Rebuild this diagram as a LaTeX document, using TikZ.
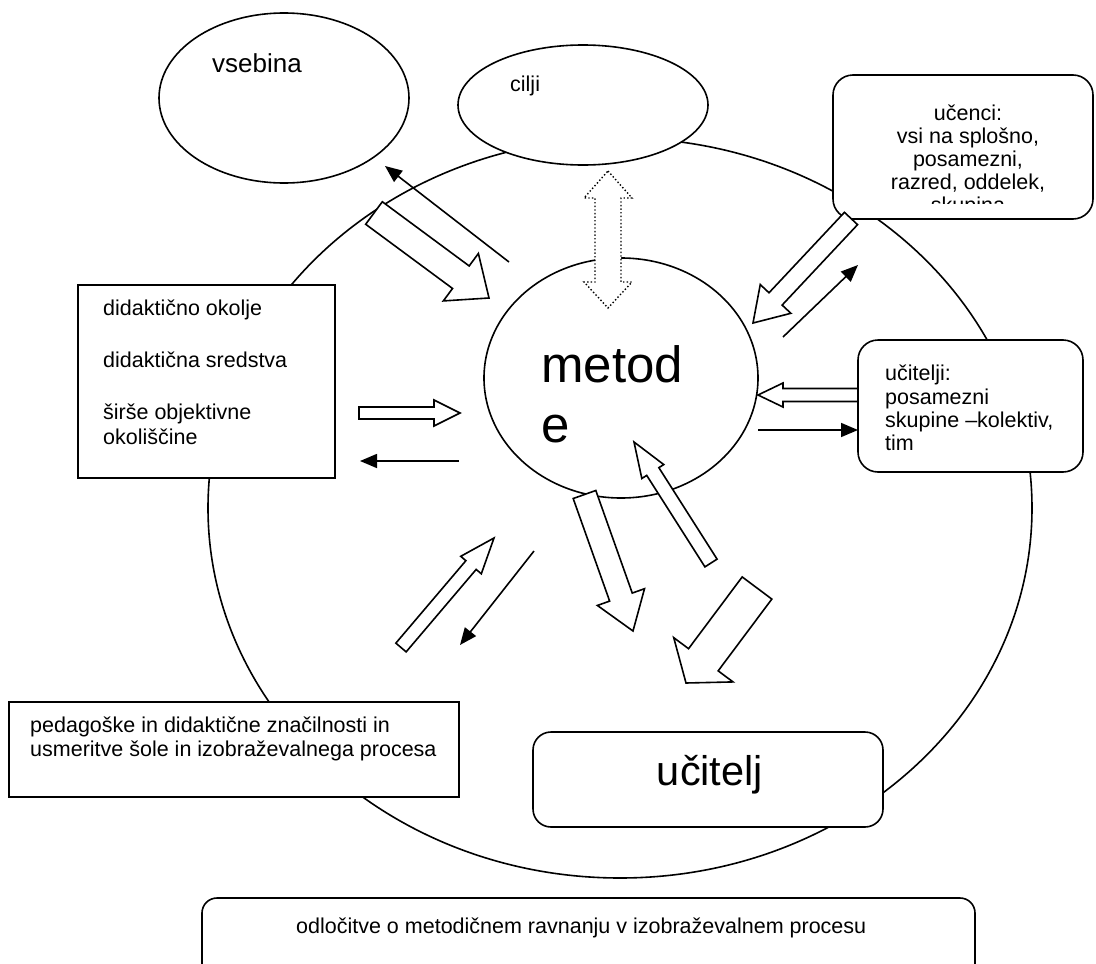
\documentclass[tikz,border=0pt]{standalone}
\usepackage{fontspec}
\setmainfont{Liberation Sans}
\usetikzlibrary{shapes.geometric,arrows.meta,calc}

% hollow block arrow: [options]{tail}{tip}{shaft half width}{head half width}{head length}
\newcommand\hollowarrow[6][]{%
  \coordinate (ha-base) at ($(#3)!#6!(#2)$);
  \path[hollow,#1] ($(#2)!#4!90:(#3)$) -- ($(ha-base)!#4!-90:(#2)$)
    -- ($(ha-base)!#5!-90:(#2)$) -- (#3) -- ($(ha-base)!#5!90:(#2)$)
    -- ($(ha-base)!#4!90:(#2)$) -- ($(#2)!#4!-90:(#3)$) -- cycle;
}

\tikzset{
  box/.style={draw, line width=1.6pt, fill=white, inner sep=0pt},
  rbox/.style={box, rounded corners=20pt},
  oval/.style={draw, ellipse, line width=1.6pt, fill=white, inner sep=0pt},
  hollow/.style={draw, fill=white, line width=1.6pt, line join=miter},
  thinarrow/.style={line width=1.6pt, -{Triangle[length=17pt,width=14pt]}},
  txt/.style={inner sep=0pt, font=\fontsize{21.5}{23}\selectfont},
}

\begin{document}
\begin{tikzpicture}[x=1pt,y=-1pt]
\useasboundingbox (0,0) rectangle (1096,964);
\clip (0,0) rectangle (1096,964);
\fill[white] (0,0) rectangle (1096,964);

% outer field
\node[draw, ellipse, line width=1.6pt, inner sep=0pt, minimum width=824, minimum height=740] (field) at (620,508) {};

% central oval and surrounding shapes
\node[oval, minimum width=274, minimum height=240] (metode) at (621,378) {};
\node[oval, minimum width=250, minimum height=170] (vsebina) at (284,98) {};
\node[oval, minimum width=250, minimum height=120] (cilji) at (583,105) {};
\node[rbox, minimum width=260, minimum height=144] (ucenci) at (963,147) {};
\node[rbox, minimum width=225, minimum height=132] (ucitelji) at (970.5,406) {};
\node[box, minimum width=257, minimum height=193] (okolje) at (206.5,381.5) {};
\node[box, minimum width=450, minimum height=95] (pedagog) at (234,749.5) {};
\node[rbox, rounded corners=18pt, minimum width=350, minimum height=95] (ucitelj) at (708,779.5) {};
\node[rbox, rounded corners=15pt, minimum width=773, minimum height=112] (odlocitve) at (588.5,954) {};

% texts
\node[txt, anchor=north west, font=\fontsize{51}{60}\selectfont, align=left] (metode-t) at (541,345) {metod\\e};
\node[txt, anchor=base west, font=\fontsize{26}{30}\selectfont] (vsebina-t) at (212,72) {vsebina};
\node[txt, anchor=base west] (cilji-t) at (510,91) {cilji};
\begin{scope}
  \clip (ucenci.north west) rectangle ($(ucenci.south east)+(0,-16)$);
  \node[txt, anchor=north, align=center] (ucenci-t) at (968,104.5)
    {učenci:\\vsi na splošno,\\posamezni,\\razred, oddelek,\\skupina};
\end{scope}
\node[txt, anchor=north west, align=left, font=\fontsize{21.5}{23.3}\selectfont] (ucitelji-t) at (885,365)
  {učitelji:\\posamezni\\skupine –kolektiv,\\tim};
\node[txt, anchor=north west, align=left, font=\fontsize{21.5}{25.8}\selectfont] (okolje-t) at (103,300)
  {didaktično okolje\\ \\didaktična sredstva\\ \\širše objektivne\\okoliščine};
\node[txt, anchor=north west, align=left, font=\fontsize{21.5}{24}\selectfont] (pedagog-t) at (30,717)
  {pedagoške in didaktične značilnosti in\\usmeritve šole in izobraževalnega procesa};
\node[txt, anchor=base, font=\fontsize{41.5}{48}\selectfont] (ucitelj-t) at (710,785) {učitelj};
\node[txt, anchor=base west] (odlocitve-t) at (296,933) {odločitve o metodičnem ravnanju v izobraževalnem procesu};

% arrow end points
\coordinate (a1s) at (509,262);   \coordinate (a1e) at (385,166);
\coordinate (b1s) at (374,213);   \coordinate (b1e) at (489,298);
\coordinate (dtop) at (608,171);  \coordinate (dbot) at (608,308);
\coordinate (b3s) at (851,218.5); \coordinate (b3e) at (753,323);
\coordinate (a2s) at (783,337);   \coordinate (a2e) at (858,265);
\coordinate (b4s) at (858,395);   \coordinate (b4e) at (758,395);
\coordinate (a3s) at (758,430);   \coordinate (a3e) at (858,430);
\coordinate (b5s) at (359,413);   \coordinate (b5e) at (460,413);
\coordinate (a4s) at (459,461);   \coordinate (a4e) at (360,461);
\coordinate (b6s) at (711,563);   \coordinate (b6e) at (634,442);
\coordinate (b7s) at (584.5,494.5); \coordinate (b7e) at (633,631);
\coordinate (b8s) at (757,588);   \coordinate (b8e) at (686,683);
\coordinate (b9s) at (401,647.5); \coordinate (b9e) at (494,538);
\coordinate (a5s) at (534,551);   \coordinate (a5e) at (460,645);

% block arrows
\hollowarrow{b1s}{b1e}{14pt}{29.5pt}{35pt}
\hollowarrow{b3s}{b3e}{9pt}{21pt}{33pt}
\hollowarrow{b4s}{b4e}{6.5pt}{12pt}{25pt}
\hollowarrow{b5s}{b5e}{6pt}{13pt}{26pt}
\hollowarrow{b6s}{b6e}{7.2pt}{13pt}{35pt}
\hollowarrow{b7s}{b7e}{12pt}{25pt}{36pt}
\hollowarrow{b8s}{b8e}{18.5pt}{37pt}{29pt}
\hollowarrow{b9s}{b9e}{6.75pt}{13.5pt}{35.5pt}

% dotted two-way arrow between goals and methods
\path[draw, fill=white, line width=1.4pt, dash pattern=on 1.4pt off 2.2pt]
  (dtop) -- ($(dtop)+(24,27)$) -- ($(dtop)+(13,27)$) -- ($(dbot)+(13,-26)$)
  -- ($(dbot)+(24,-26)$) -- (dbot) -- ($(dbot)+(-24,-26)$) -- ($(dbot)+(-13,-26)$)
  -- ($(dtop)+(-13,27)$) -- ($(dtop)+(-24,27)$) -- cycle;

% thin arrows
\draw[thinarrow] (a1s) -- (a1e);
\draw[thinarrow] (a2s) -- (a2e);
\draw[thinarrow] (a3s) -- (a3e);
\draw[thinarrow] (a4s) -- (a4e);
\draw[thinarrow] (a5s) -- (a5e);
\end{tikzpicture}
\end{document}
